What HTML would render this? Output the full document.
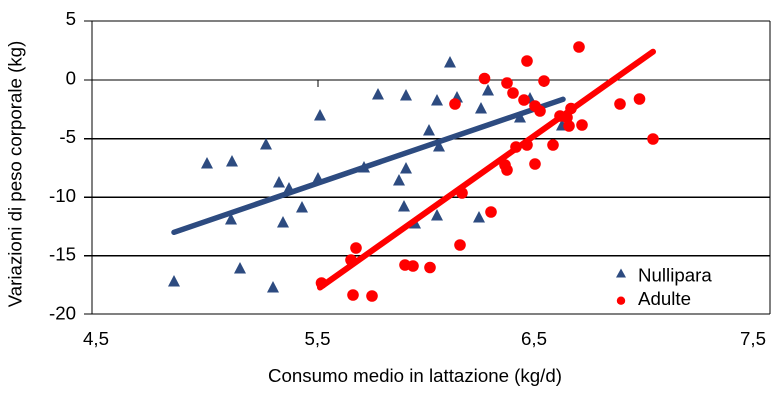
<!DOCTYPE html>
<html>
<head>
<meta charset="utf-8">
<style>
  html,body{margin:0;padding:0;background:#fff;}
  svg{display:block;}
  text{font-family:"Liberation Sans",Arial,sans-serif;font-size:18.7px;fill:#000;}
</style>
</head>
<body>
<svg width="774" height="403" viewBox="0 0 774 403" xmlns="http://www.w3.org/2000/svg">
  <rect x="0" y="0" width="774" height="403" fill="#fff"/>
  <!-- gridlines -->
  <g stroke="#000" stroke-width="1.3" shape-rendering="crispEdges">
    <line x1="84" y1="21" x2="770" y2="21"/>
    <line x1="84" y1="80" x2="770" y2="80"/>
    <line x1="84" y1="138.6" x2="770" y2="138.6"/>
    <line x1="84" y1="197.2" x2="770" y2="197.2"/>
    <line x1="84" y1="255.8" x2="770" y2="255.8"/>
    <line x1="84" y1="314" x2="770" y2="314"/>
    <line x1="92" y1="21" x2="92" y2="314"/>
    <line x1="770" y1="21" x2="770" y2="314"/>
    <line x1="318" y1="80" x2="318" y2="87"/>
    <line x1="544" y1="80" x2="544" y2="87"/>
  </g>
  <!-- y tick labels -->
  <g text-anchor="end">
    <text x="76" y="25">5</text>
    <text x="76" y="84.5">0</text>
    <text x="76" y="143">-5</text>
    <text x="76" y="202">-10</text>
    <text x="76" y="260.5">-15</text>
    <text x="76" y="319.5">-20</text>
  </g>
  <!-- x tick labels -->
  <g text-anchor="middle">
    <text x="96" y="345">4,5</text>
    <text x="317.5" y="345">5,5</text>
    <text x="534" y="345">6,5</text>
    <text x="753" y="345">7,5</text>
  </g>
  <text x="268" y="382">Consumo medio in lattazione (kg/d)</text>
  <text transform="translate(21.5,174) rotate(-90)" text-anchor="middle">Variazioni di peso corporale (kg)</text>

  <!-- Nullipara triangles -->
  <g fill="#2D4B80">
    <polygon points="174,275 180,286.5 168,286.5"/>
    <polygon points="207,157 213,168.5 201,168.5"/>
    <polygon points="232,155 238,166.5 226,166.5"/>
    <polygon points="266,138 272,149.5 260,149.5"/>
    <polygon points="320,109 326,120.5 314,120.5"/>
    <polygon points="279,176 285,187.5 273,187.5"/>
    <polygon points="289,182 295,193.5 283,193.5"/>
    <polygon points="318,172 324,183.5 312,183.5"/>
    <polygon points="302,201 308,212.5 296,212.5"/>
    <polygon points="231,213 237,224.5 225,224.5"/>
    <polygon points="283,216 289,227.5 277,227.5"/>
    <polygon points="240,262 246,273.5 234,273.5"/>
    <polygon points="273,281 279,292.5 267,292.5"/>
    <polygon points="450,56 456,67.5 444,67.5"/>
    <polygon points="378,88 384,99.5 372,99.5"/>
    <polygon points="406,89 412,100.5 400,100.5"/>
    <polygon points="437,94 443,105.5 431,105.5"/>
    <polygon points="457,91 463,102.5 451,102.5"/>
    <polygon points="488,84 494,95.5 482,95.5"/>
    <polygon points="481,102 487,113.5 475,113.5"/>
    <polygon points="429,124 435,135.5 423,135.5"/>
    <polygon points="439,140 445,151.5 433,151.5"/>
    <polygon points="364,161 370,172.5 358,172.5"/>
    <polygon points="406,162 412,173.5 400,173.5"/>
    <polygon points="399,174 405,185.5 393,185.5"/>
    <polygon points="404,200 410,211.5 398,211.5"/>
    <polygon points="437,209 443,220.5 431,220.5"/>
    <polygon points="415,217 421,228.5 409,228.5"/>
    <polygon points="479,211 485,222.5 473,222.5"/>
    <polygon points="530,92 536,103.5 524,103.5"/>
    <polygon points="520,111 526,122.5 514,122.5"/>
    <polygon points="562,119 568,130.5 556,130.5"/>
  </g>
  <line x1="174" y1="232.3" x2="563" y2="99.3" stroke="#2D4B80" stroke-width="5.5" stroke-linecap="round"/>

  <!-- Adulte circles -->
  <g fill="#FF0000">
    <circle cx="484.5" cy="78.5" r="5.8"/>
    <circle cx="455" cy="104" r="5.8"/>
    <circle cx="462" cy="193" r="5.8"/>
    <circle cx="491" cy="212" r="5.8"/>
    <circle cx="356" cy="248" r="5.8"/>
    <circle cx="351" cy="260" r="5.8"/>
    <circle cx="405" cy="265" r="5.8"/>
    <circle cx="413" cy="266" r="5.8"/>
    <circle cx="430" cy="267.5" r="5.8"/>
    <circle cx="460" cy="245" r="5.8"/>
    <circle cx="321.5" cy="283" r="5.8"/>
    <circle cx="353" cy="295" r="5.8"/>
    <circle cx="372" cy="296" r="5.8"/>
    <circle cx="579" cy="47" r="5.8"/>
    <circle cx="527" cy="61" r="5.8"/>
    <circle cx="507" cy="83" r="5.8"/>
    <circle cx="544" cy="81" r="5.8"/>
    <circle cx="513" cy="93" r="5.8"/>
    <circle cx="524" cy="100" r="5.8"/>
    <circle cx="535" cy="106" r="5.8"/>
    <circle cx="540" cy="111" r="5.8"/>
    <circle cx="620" cy="104" r="5.8"/>
    <circle cx="639.5" cy="99" r="5.8"/>
    <circle cx="560" cy="116" r="5.8"/>
    <circle cx="571" cy="108.5" r="5.8"/>
    <circle cx="567" cy="117.5" r="5.8"/>
    <circle cx="569" cy="126" r="5.8"/>
    <circle cx="582" cy="125" r="5.8"/>
    <circle cx="653" cy="139" r="5.8"/>
    <circle cx="516" cy="147" r="5.8"/>
    <circle cx="527" cy="145" r="5.8"/>
    <circle cx="553" cy="145" r="5.8"/>
    <circle cx="505" cy="165" r="5.8"/>
    <circle cx="507" cy="170" r="5.8"/>
    <circle cx="535" cy="164" r="5.8"/>
  </g>
  <line x1="320" y1="287.5" x2="653" y2="51.7" stroke="#FF0000" stroke-width="6" stroke-linecap="round"/>

  <!-- legend -->
  <polygon points="621,268.5 626,277.5 616,277.5" fill="#2D4B80"/>
  <text x="638" y="281.5">Nullipara</text>
  <circle cx="621" cy="300.7" r="4.2" fill="#FF0000"/>
  <text x="638" y="305">Adulte</text>
</svg>
</body>
</html>
